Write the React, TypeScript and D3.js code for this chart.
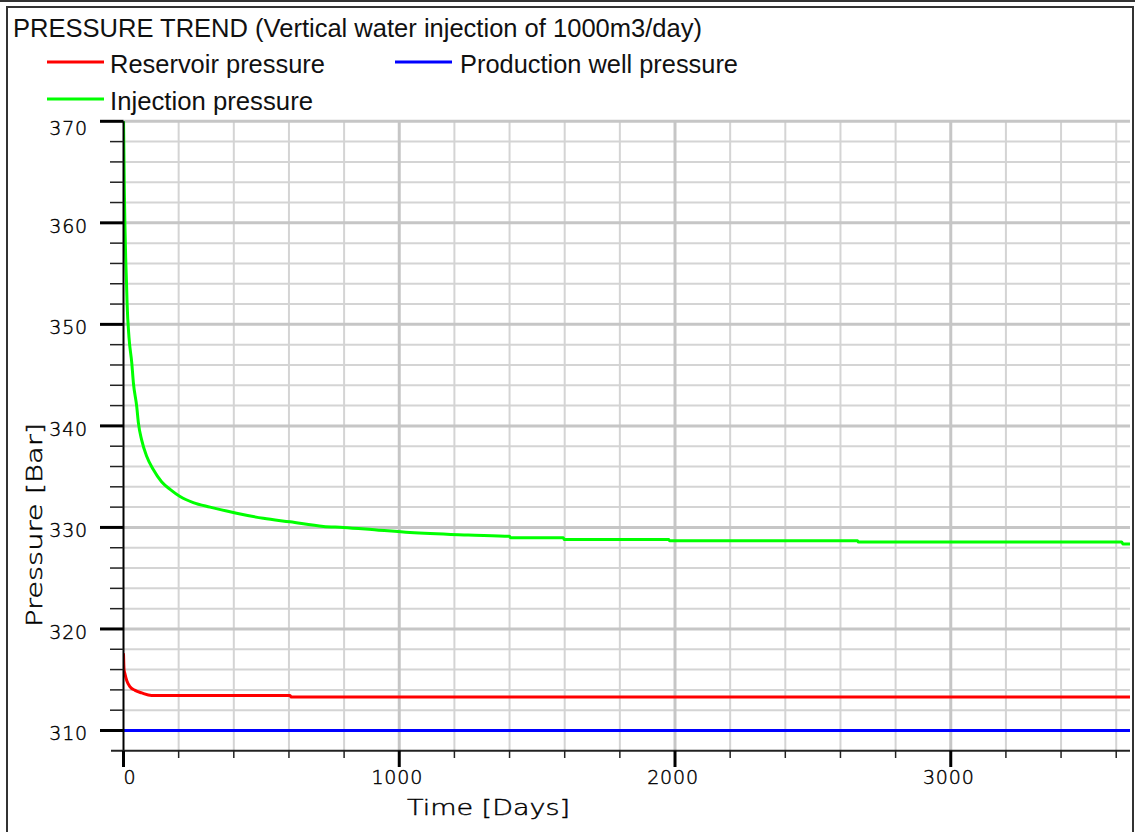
import React from "react";
import * as d3 from "d3";

const TITLE = "PRESSURE TREND (Vertical water injection of 1000m3/day)";
const SERIES_NAMES = ["Reservoir pressure", "Production well pressure", "Injection pressure"];
const SERIES_COLORS = ["#ff0000", "#0000ff", "#00ff00"];

const RES_DAYS = [0, 2, 5, 12, 24, 42, 66, 102, 604, 608, 3650];
const RES_VALUES = [317.6, 316.0, 315.6, 314.9, 314.3, 313.95, 313.7, 313.45, 313.45, 313.3, 313.3];

const PROD_DAYS = [0, 3650];
const PROD_VALUES = [310, 310];

const INJ_DAYS = [0, 3, 8, 11, 13, 20, 30, 36, 48, 54, 66, 84, 108, 138, 169, 205, 253, 314, 410, 507, 604, 725, 797, 918, 1039, 1250, 1400, 1403, 1595, 1598, 1977, 1980, 2662, 2665, 3620, 3625, 3650];
const INJ_VALUES = [370.5, 363.3, 356.5, 354.0, 352.1, 348.7, 346.2, 344.2, 341.9, 340.3, 338.6, 337.0, 335.7, 334.5, 333.75, 333.05, 332.45, 332.0, 331.4, 330.9, 330.55, 330.1, 330.0, 329.75, 329.5, 329.25, 329.12, 328.99, 328.99, 328.8, 328.8, 328.7, 328.7, 328.56, 328.56, 328.36, 328.36];

const X_MAJOR = [0, 1000, 2000, 3000];
const X_MINOR_STEP = 200;
const Y_MAJOR = [310, 320, 330, 340, 350, 360, 370];
const Y_MINOR_STEP = 2;
const X_DOMAIN = [0, 3650];
const Y_DOMAIN = [308, 370];

export default function App() {
  const W = 1135, H = 832;
  const x = d3.scaleLinear().domain(X_DOMAIN).range([123.5, 1130]);
  const y = d3.scaleLinear().domain(Y_DOMAIN).range([750.8, 121.3]);
  const [x0, x1] = x.range();
  const [yb, yt] = y.range();

  const xMinor = d3.range(X_DOMAIN[0], X_DOMAIN[1] + 1, X_MINOR_STEP).filter((v) => !X_MAJOR.includes(v));
  const yMinor = d3.range(Y_DOMAIN[0] + 2, Y_DOMAIN[1] + 0.1, Y_MINOR_STEP).filter((v) => !Y_MAJOR.includes(v));

  const line = d3.line<[number, number]>().x((d) => x(d[0])).y((d) => y(d[1])).curve(d3.curveMonotoneX);
  const mk = (days: number[], vals: number[]) => days.map((d, i) => [d, vals[i]] as [number, number]);
  const series = [
    mk(RES_DAYS, RES_VALUES),
    mk(PROD_DAYS, PROD_VALUES),
    mk(INJ_DAYS, INJ_VALUES),
  ];

  const tickFont = "'DejaVu Sans', sans-serif";
  const textFont = "'Liberation Sans', Arial, sans-serif";
  const thinText = { fontFamily: tickFont, fontWeight: 200, fill: "#000", stroke: "#000", strokeWidth: 0.45 } as const;

  const legend = [
    { i: 0, lx: 47, tx: 110, ty: 73, len: 215 },
    { i: 1, lx: 395, tx: 460, ty: 73, len: 278 },
    { i: 2, lx: 47, tx: 110, ty: 110, len: 203 },
  ];

  return (
    <svg width={W} height={H} style={{ position: "absolute", left: 0, top: 0, background: "#fff" }}>
      <defs>
        <clipPath id="plotclip">
          <rect x={x0} y={yt} width={x1 - x0} height={yb - yt} />
        </clipPath>
      </defs>
      {/* frames */}
      <line x1={0} x2={W} y1={1} y2={1} stroke="#333" strokeWidth={2} />
      <rect x={7} y={7} width={1126} height={H} fill="none" stroke="#333" strokeWidth={2} />

      {/* title */}
      <text x={13} y={37} fontFamily={textFont} fontSize={25} fill="#111" textLength={689} lengthAdjust="spacingAndGlyphs">
        {TITLE}
      </text>

      {/* legend */}
      {legend.map((l) => (
        <g key={l.i}>
          <line x1={l.lx} x2={l.lx + 57} y1={l.ty - 11} y2={l.ty - 11} stroke={SERIES_COLORS[l.i]} strokeWidth={3} />
          <text x={l.tx} y={l.ty} fontFamily={textFont} fontSize={25} fill="#111" textLength={l.len} lengthAdjust="spacingAndGlyphs">
            {SERIES_NAMES[l.i]}
          </text>
        </g>
      ))}

      {/* grid */}
      {yMinor.map((v) => (
        <line key={"gy" + v} x1={x0} x2={x1} y1={y(v)} y2={y(v)} stroke="#d4d4d4" strokeWidth={2} />
      ))}
      {xMinor.map((v) => (
        <line key={"gx" + v} x1={x(v)} x2={x(v)} y1={yt} y2={yb} stroke="#d4d4d4" strokeWidth={2} />
      ))}
      {Y_MAJOR.map((v) => (
        <line key={"gY" + v} x1={x0} x2={x1} y1={y(v)} y2={y(v)} stroke="#c6c6c6" strokeWidth={3} />
      ))}
      {X_MAJOR.filter((v) => v > 0).map((v) => (
        <line key={"gX" + v} x1={x(v)} x2={x(v)} y1={yt} y2={yb} stroke="#c6c6c6" strokeWidth={3} />
      ))}

      {/* series */}
      <g clipPath="url(#plotclip)">
        {series.map((s, i) => (
          <path key={i} d={line(s) || ""} fill="none" stroke={SERIES_COLORS[i]} strokeWidth={3} strokeLinejoin="round" />
        ))}
      </g>

      {/* axes */}
      <line x1={x0} x2={x0} y1={yt} y2={yb} stroke="#000" strokeWidth={2} />
      <line x1={111} x2={x1} y1={yb} y2={yb} stroke="#222" strokeWidth={2} />
      {Y_MAJOR.map((v) => (
        <line key={"tY" + v} x1={100} x2={x0} y1={y(v)} y2={y(v)} stroke="#000" strokeWidth={3} />
      ))}
      {yMinor.map((v) => (
        <line key={"ty" + v} x1={110} x2={x0} y1={y(v)} y2={y(v)} stroke="#222" strokeWidth={1.5} />
      ))}
      {X_MAJOR.map((v) => (
        <line key={"tX" + v} x1={x(v)} x2={x(v)} y1={yb} y2={767} stroke="#000" strokeWidth={3} />
      ))}
      {xMinor.map((v) => (
        <line key={"tx" + v} x1={x(v)} x2={x(v)} y1={yb} y2={758} stroke="#222" strokeWidth={1.5} />
      ))}

      {/* tick labels */}
      {Y_MAJOR.map((v) => (
        <text key={"lY" + v} x={88} y={v === 370 ? y(v) + 14 : y(v) + 10} textAnchor="end" fontSize={19} letterSpacing={0.8} {...thinText}>
          {d3.format("d")(v)}
        </text>
      ))}
      {X_MAJOR.map((v) => (
        <text key={"lX" + v} x={v === 0 ? x(v) : x(v) - 2} y={784} textAnchor={v === 0 ? "start" : "middle"} fontSize={19} letterSpacing={0.8} {...thinText}>
          {d3.format("d")(v)}
        </text>
      ))}

      {/* axis titles */}
      <text x={407} y={815} fontSize={22} {...thinText} textLength={163} lengthAdjust="spacingAndGlyphs">
        Time  [Days]
      </text>
      <text transform="translate(42,627) rotate(-90)" x={0} y={0} fontSize={22} {...thinText} textLength={204} lengthAdjust="spacingAndGlyphs">
        Pressure  [Bar]
      </text>
    </svg>
  );
}
